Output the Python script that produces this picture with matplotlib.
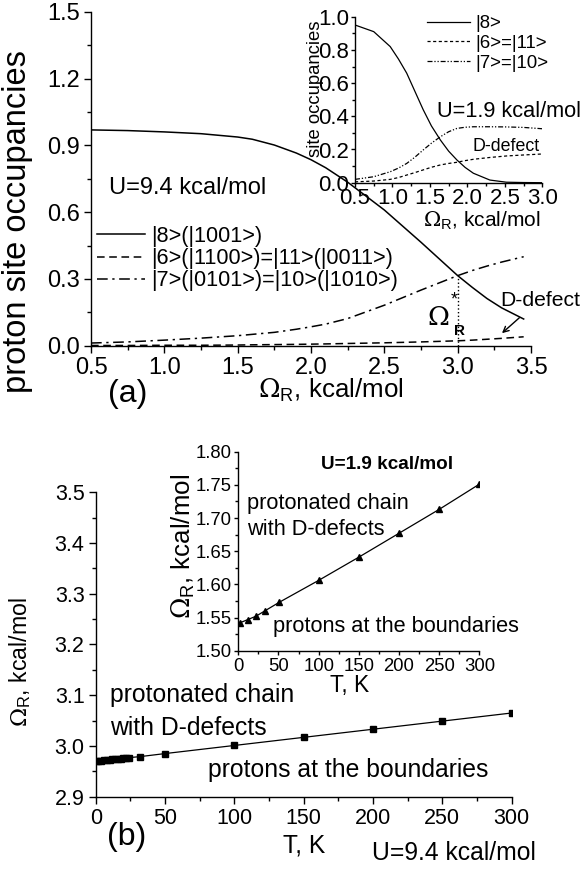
import numpy as np
import matplotlib.pyplot as plt
from matplotlib.ticker import MultipleLocator

plt.rcParams['font.family'] = ['Liberation Sans', 'DejaVu Sans']
plt.rcParams['mathtext.fontset'] = 'custom'
plt.rcParams['mathtext.rm'] = 'DejaVu Serif'
plt.rcParams['mathtext.sf'] = 'Liberation Sans'

# painel (a): U=9.4 kcal/mol
omega_a = [0.5, 0.75, 1.0, 1.25, 1.5, 1.6, 1.75, 1.9, 2.0, 2.1, 2.25, 2.5, 2.75, 3.0, 3.1, 3.2, 3.3, 3.45]
occ8_a = [0.970, 0.967, 0.961, 0.953, 0.938, 0.928, 0.902, 0.866, 0.836, 0.800, 0.735, 0.610, 0.465,
          0.315, 0.262, 0.212, 0.170, 0.120]
occ6_a = [0.001, 0.001, 0.002, 0.002, 0.003, 0.004, 0.005, 0.006, 0.007, 0.008, 0.010, 0.013, 0.017,
          0.022, 0.025, 0.029, 0.033, 0.040]
occ7_a = [0.012, 0.017, 0.025, 0.034, 0.045, 0.051, 0.060, 0.074, 0.085, 0.097, 0.122, 0.182, 0.250,
          0.315, 0.338, 0.358, 0.376, 0.400]
omega_star = 3.0
occ_star = 0.315

# inset (a): U=1.9 kcal/mol
omega_ai = [0.5, 0.75, 0.97, 1.08, 1.19, 1.3, 1.41, 1.52, 1.64, 1.75, 1.86, 1.97, 2.08, 2.3, 2.52, 2.75, 3.0]
occ8_ai = [0.950, 0.910, 0.820, 0.745, 0.660, 0.550, 0.440, 0.342, 0.257, 0.190, 0.137, 0.092, 0.057,
           0.016, 0.003, 0.001, 0.0]
occ6_ai = [0.005, 0.010, 0.020, 0.031, 0.046, 0.061, 0.077, 0.093, 0.107, 0.116, 0.123, 0.133, 0.141,
           0.152, 0.161, 0.167, 0.173]
occ7_ai = [0.020, 0.036, 0.066, 0.088, 0.116, 0.154, 0.197, 0.238, 0.277, 0.307, 0.327, 0.334, 0.337,
           0.337, 0.336, 0.333, 0.325]

# painel (b): U=9.4 kcal/mol
T_b = [0, 2, 4, 6, 8, 10, 12, 14, 16, 18, 20, 22, 24, 32, 50, 100, 150, 200, 250, 300]
omega_b = [2.970, 2.971, 2.971, 2.972, 2.972, 2.973, 2.974, 2.974, 2.975, 2.975,
           2.976, 2.976, 2.977, 2.979, 2.985, 3.001, 3.017, 3.033, 3.049, 3.065]

# inset (b): U=1.9 kcal/mol
T_bi = [2, 12, 22, 33, 51, 100, 150, 200, 250, 300]
omega_bi = [1.542, 1.547, 1.552, 1.560, 1.573, 1.606, 1.641, 1.677, 1.713, 1.751]

W, H = 581, 869
fig = plt.figure(figsize=(W / 100, H / 100), dpi=100)


def box(l, t, r, b):
    return [l / W, 1 - b / H, (r - l) / W, (b - t) / H]


def ftext(x, y, s, **kw):
    fig.text(x / W, 1 - y / H, s, **kw)


def style(ax, fs, major=5, minor=3, pad=3):
    ax.spines['top'].set_visible(False)
    ax.spines['right'].set_visible(False)
    ax.set_facecolor('none')
    ax.tick_params(which='major', direction='out', length=major, width=1, labelsize=fs, pad=pad)
    ax.tick_params(which='minor', direction='out', length=minor, width=1)
    for s in ['left', 'bottom']:
        ax.spines[s].set_linewidth(1)


# ---- (a) principal
ax1 = fig.add_axes(box(91, 12, 531, 345.7))
ax1.plot(omega_a, occ8_a, 'k-', lw=1.1, label='|8>(|1001>)')
ax1.plot(omega_a, occ6_a, color='k', ls=(0, (5, 3)), lw=1.1, label='|6>(|1100>)=|11>(|0011>)')
ax1.plot(omega_a, occ7_a, color='k', ls=(0, (7, 3, 1.5, 3)), lw=1.1, label='|7>(|0101>)=|10>(|1010>)')
ax1.plot([omega_star, omega_star], [0, occ_star], 'k:', lw=1)
ax1.set_xlim(0.5, 3.5)
ax1.set_ylim(0, 1.5)
ax1.xaxis.set_major_locator(MultipleLocator(0.5))
ax1.xaxis.set_minor_locator(MultipleLocator(0.25))
ax1.yaxis.set_major_locator(MultipleLocator(0.3))
ax1.yaxis.set_minor_locator(MultipleLocator(0.15))
ax1.xaxis.set_major_formatter(lambda v, p: f'{v:.1f}')
ax1.yaxis.set_major_formatter(lambda v, p: f'{v:.1f}')
style(ax1, 17)
ax1.legend(loc='upper left', bbox_to_anchor=((97 - 91) / 440, (345.7 - 226) / 333.7),
           frameon=False, fontsize=15.6, handlelength=2.2, handletextpad=0.3,
           labelspacing=0.05, borderpad=0, borderaxespad=0)
ax1.text(0.623, 0.71, 'U=9.4 kcal/mol', fontsize=17, va='center')
ax1.text(2.865, 0.125, r'$\Omega$', fontsize=19, va='center', ha='center')
ax1.text(2.98, 0.205, '*', fontsize=13, va='center', ha='center')
ax1.text(3.015, 0.066, 'R', fontsize=11, fontweight='bold', va='center', ha='center')
ax1.text(3.288, 0.205, 'D-defect', fontsize=15.2, va='center')
ax1.annotate('', xy=(3.288, 0.048), xytext=(3.435, 0.134),
             arrowprops=dict(arrowstyle='->', lw=1, color='k'))

ftext(18, 222, 'proton site occupancies', fontsize=23.5, rotation=90, ha='center', va='center')
ftext(258, 398, r'$\Omega_\mathsf{R}$, kcal/mol', fontsize=18.7, va='baseline')
ftext(128, 394, '(a)', fontsize=23, ha='center', va='center')

# ---- (a) inset
ax2 = fig.add_axes(box(355, 16.7, 542.3, 182.7))
ax2.plot(omega_ai, occ8_ai, 'k-', lw=0.9, label='|8>')
ax2.plot(omega_ai, occ6_ai, color='k', ls=(0, (2.5, 2)), lw=0.9, label='|6>=|11>')
ax2.plot(omega_ai, occ7_ai, color='k', ls=(0, (4, 1.5, 1, 1.5, 1, 1.5)), lw=0.9, label='|7>=|10>')
ax2.set_xlim(0.5, 3.0)
ax2.set_ylim(0, 1.0)
ax2.xaxis.set_major_locator(MultipleLocator(0.5))
ax2.xaxis.set_minor_locator(MultipleLocator(0.25))
ax2.yaxis.set_major_locator(MultipleLocator(0.2))
ax2.yaxis.set_minor_locator(MultipleLocator(0.1))
ax2.xaxis.set_major_formatter(lambda v, p: f'{v:.1f}')
ax2.yaxis.set_major_formatter(lambda v, p: f'{v:.1f}')
style(ax2, 16, major=3, minor=2, pad=1)
ax2.legend(loc='upper left', bbox_to_anchor=((427 - 355) / 187.3, (182.7 - 15) / 166),
           frameon=False, fontsize=13.4, handlelength=2.3, handletextpad=0.3,
           labelspacing=0.15, borderpad=0, borderaxespad=0)
ax2.text(1.59, 0.428, 'U=1.9 kcal/mol', fontsize=15.7, va='center')
ax2.text(2.071, 0.217, 'D-defect', fontsize=12.8, va='center')
ftext(315, 88.5, 'site occupancies', fontsize=13.3, rotation=90, ha='center', va='center')
ftext(423, 226, r'$\Omega_\mathsf{R}$, kcal/mol', fontsize=15, va='baseline')

# ---- (b) principal
ax3 = fig.add_axes(box(95.7, 492.3, 511.7, 796.7))
ax3.plot(T_b, omega_b, 'k-', lw=0.9, marker='s', ms=5)
ax3.set_xlim(0, 300)
ax3.set_ylim(2.9, 3.5)
ax3.xaxis.set_major_locator(MultipleLocator(50))
ax3.xaxis.set_minor_locator(MultipleLocator(25))
ax3.yaxis.set_major_locator(MultipleLocator(0.1))
ax3.yaxis.set_minor_locator(MultipleLocator(0.05))
ax3.yaxis.set_major_formatter(lambda v, p: f'{v:.1f}')
style(ax3, 15.5)
ax3.text(10.3, 3.100, 'protonated chain', fontsize=17.8, va='center')
ax3.text(10.3, 3.035, 'with D-defects', fontsize=17.8, va='center')
ax3.text(81, 2.953, 'protons at the boundaries', fontsize=17.8, va='center')
ftext(20, 662, r'$\Omega_\mathsf{R}$, kcal/mol', fontsize=16.7, rotation=90, ha='center', va='center')
ftext(283, 853, 'T, K', fontsize=17.7, va='baseline')
ftext(371.7, 860, 'U=9.4 kcal/mol', fontsize=17.8, va='baseline')
ftext(127, 836.7, '(b)', fontsize=23, ha='center', va='center')

# ---- (b) inset
ax4 = fig.add_axes(box(238.3, 451.7, 479.3, 650.7))
ax4.plot(T_bi, omega_bi, 'k-', lw=0.9, marker='^', ms=4)
ax4.set_xlim(0, 300)
ax4.set_ylim(1.5, 1.8)
ax4.xaxis.set_major_locator(MultipleLocator(50))
ax4.xaxis.set_minor_locator(MultipleLocator(25))
ax4.yaxis.set_major_locator(MultipleLocator(0.05))
ax4.yaxis.set_minor_locator(MultipleLocator(0.025))
ax4.yaxis.set_major_formatter(lambda v, p: f'{v:.2f}')
style(ax4, 13.3, major=3, minor=2, pad=2)
ax4.text(185.7, 1.78, 'U=1.9 kcal/mol', fontsize=13.6, fontweight='bold', ha='center', va='center')
ax4.text(10.5, 1.722, 'protonated chain', fontsize=15.7, va='center')
ax4.text(10.5, 1.682, 'with D-defects', fontsize=15.7, va='center')
ax4.text(42.8, 1.536, 'protons at the boundaries', fontsize=15.7, va='center')
ftext(183, 546, r'$\Omega_\mathsf{R}$, kcal/mol', fontsize=18.6, rotation=90, ha='center', va='center')
ftext(330, 691.7, 'T, K', fontsize=16.4, va='baseline')

fig.savefig('out.png', dpi=100)
